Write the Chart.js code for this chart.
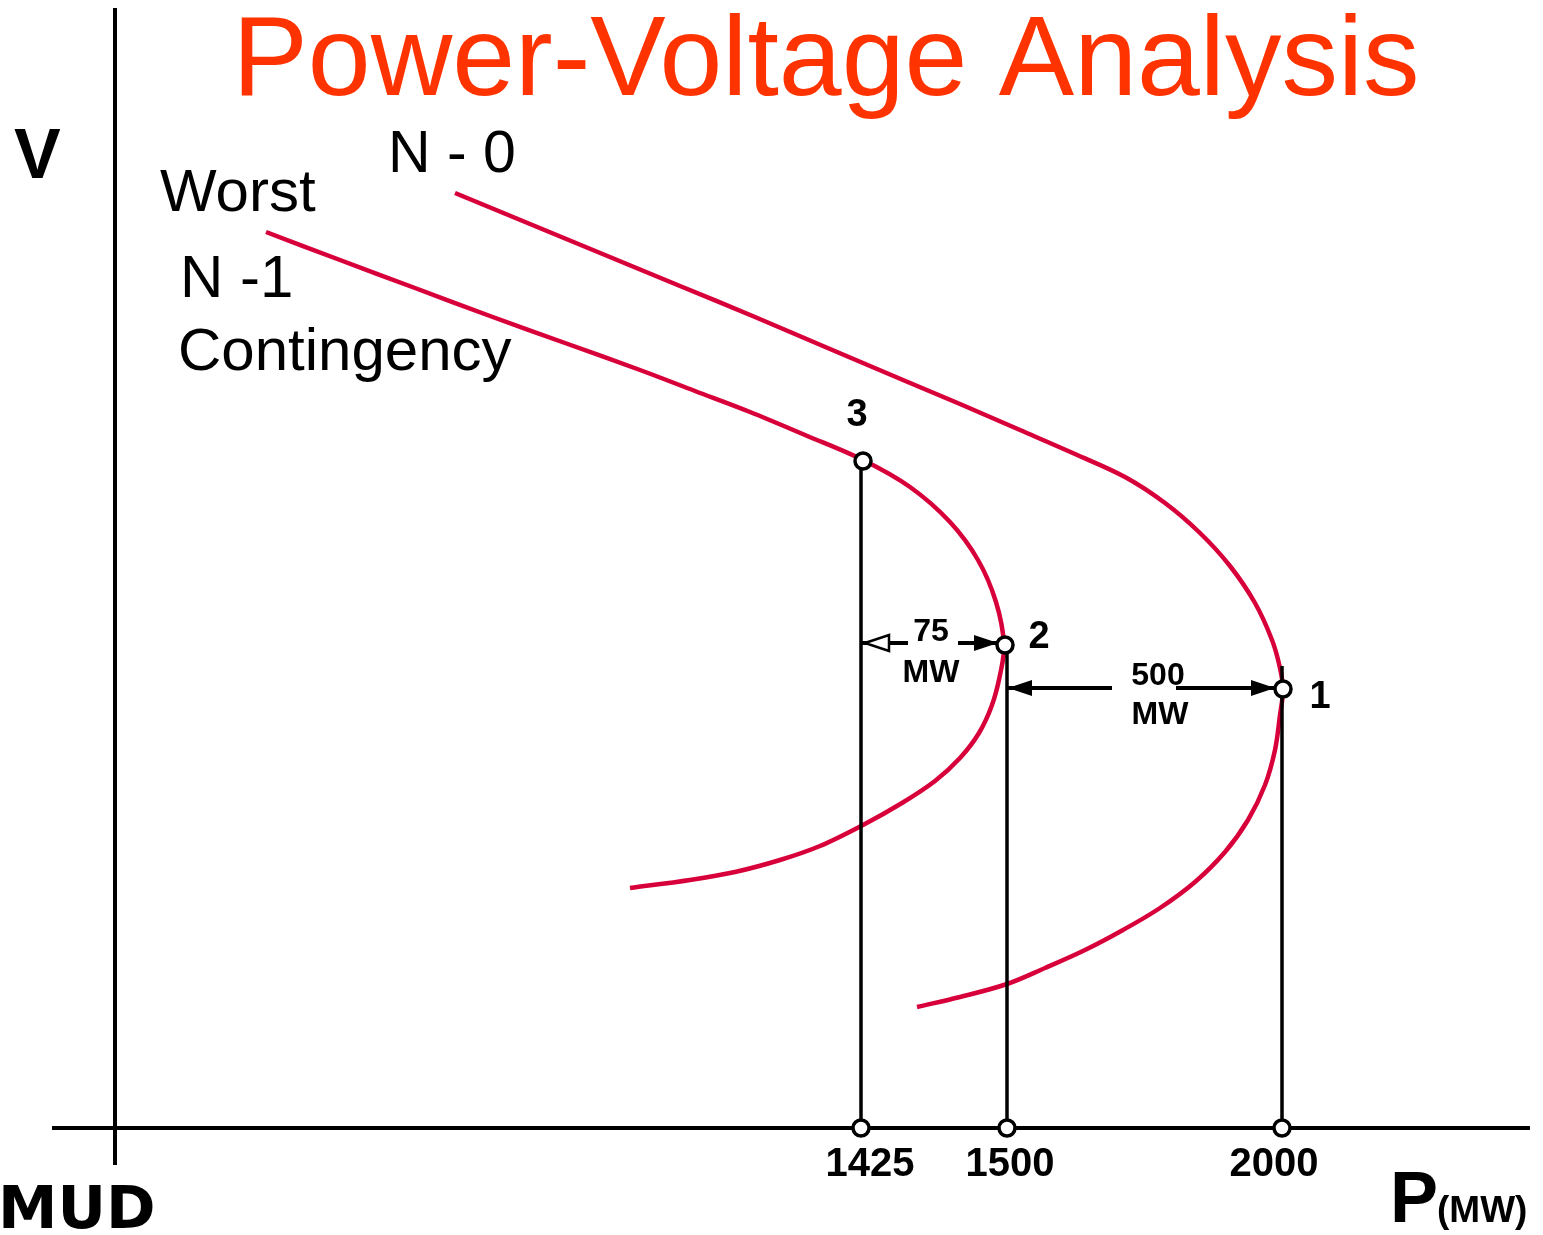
<!DOCTYPE html>
<html>
<head>
<meta charset="utf-8">
<title>Power-Voltage Analysis</title>
<script src="https://cdn.jsdelivr.net/npm/chart.js@4.4.1/dist/chart.umd.min.js"></script>
<style>
  html, body { margin: 0; padding: 0; background: #fff; overflow: hidden; }
  #wrap { width: 1543px; height: 1235px; }
</style>
</head>
<body>
<div id="wrap"><canvas id="pv"></canvas></div>
<script>
// diagram units (the sketch is not to scale, P ticks are labels only)
const n0P = [34.0, 41.5, 49.0, 56.5, 64.0, 71.5, 78.8, 84.5, 90.5, 96.0, 101.0, 105.0, 108.5, 111.5, 114.0, 115.7, 116.5, 116.8, 116.5, 116.0, 115.0, 113.3, 111.0, 108.0, 104.5, 100.8, 97.0, 93.0, 89.2, 84.5, 80.2];
const n0V = [93.5, 90.4, 87.3, 84.2, 81.1, 77.9, 74.8, 72.4, 69.8, 67.4, 65.1, 62.5, 59.5, 56.2, 52.5, 48.8, 46.0, 43.8, 41.3, 37.8, 34.3, 30.8, 27.6, 24.6, 22.0, 19.8, 17.8, 16.0, 14.4, 13.1, 12.1];

const n1P = [15.1, 22.5, 30.0, 37.5, 45.0, 52.5, 58.0, 63.5, 69.0, 74.8, 79.5, 83.5, 86.3, 88.1, 88.9, 88.5, 87.7, 86.4, 84.5, 82.0, 78.7, 74.8, 70.5, 66.5, 62.0, 57.5, 51.5];
const n1V = [89.6, 86.8, 84.0, 81.2, 78.5, 75.8, 73.7, 71.6, 69.3, 66.8, 64.1, 60.6, 56.8, 52.6, 48.3, 45.3, 42.3, 39.5, 37.0, 34.7, 32.5, 30.3, 28.2, 26.8, 25.6, 24.8, 24.0];

// operating points 1, 2, 3
const pointNames = ['1', '2', '3'];
const pointP = [116.8, 89.0, 74.8];
const pointV = [43.9, 48.3, 66.7];

// P axis ticks and the drop lines above them
const tickLabels = ['2000', '1500', '1425'];
const tickP = [116.7, 89.2, 74.6];
const dropTop = [46.2, 48.3, 66.7];

// margins between points
const gapLabels = ['75', '500'];
const gapFrom = [74.6, 89.2];
const gapTo = [88.3, 116.0];
const gapV = [48.5, 44.0];

const axisP = [-6.3, 141.5];
const axisV = [-3.7, 112.0];

const RED = '#d8003a';
const INK = '#000';

function xy(ps, vs) {
    return ps.map((p, i) => ({ x: p, y: vs[i] }));
}

let datasets = [];

datasets.push({
    label: 'P axis',
    data: [{ x: axisP[0], y: 0 }, { x: axisP[1], y: 0 }],
    borderColor: INK, borderWidth: 4, pointRadius: 0, showLine: true, order: 4
});
datasets.push({
    label: 'V axis',
    data: [{ x: 0, y: axisV[0] }, { x: 0, y: axisV[1] }],
    borderColor: INK, borderWidth: 4, pointRadius: 0, showLine: true, order: 4
});
datasets.push({
    label: 'N - 0',
    data: xy(n0P, n0V),
    borderColor: RED, borderWidth: 4.5, pointRadius: 0, showLine: true, tension: 0.35, order: 3
});
datasets.push({
    label: 'Worst N -1 Contingency',
    data: xy(n1P, n1V),
    borderColor: RED, borderWidth: 4.5, pointRadius: 0, showLine: true, tension: 0.35, order: 3
});
tickP.forEach((p, i) => {
    datasets.push({
        label: 'drop ' + tickLabels[i],
        data: [{ x: p, y: dropTop[i] }, { x: p, y: 0 }],
        borderColor: INK, borderWidth: 3.5, pointRadius: 0, showLine: true, order: 2
    });
});
datasets.push({
    label: 'markers',
    data: xy(pointP, pointV).concat(tickP.map(p => ({ x: p, y: 0 }))),
    showLine: false,
    pointRadius: 8, pointBorderWidth: 3.5,
    pointBackgroundColor: '#fff', pointBorderColor: INK, order: 1
});

// text + arrows, placed through the scales
const labelsPlugin = {
    id: 'pvLabels',
    afterDatasetsDraw(chart) {
        const ctx = chart.ctx;
        const xs = chart.scales.x, ys = chart.scales.y;
        const px = v => xs.getPixelForValue(v);
        const py = v => ys.getPixelForValue(v);

        function text(str, x, y, font, align, color) {
            ctx.save();
            ctx.font = font;
            ctx.textAlign = align || 'left';
            ctx.textBaseline = 'alphabetic';
            ctx.fillStyle = color || INK;
            ctx.fillText(str, px(x), py(y));
            ctx.restore();
        }

        function head(tipX, y, dir, filled) {
            const tx = px(tipX), ty = py(y);
            const len = 24, hw = 8;
            ctx.beginPath();
            ctx.moveTo(tx, ty);
            ctx.lineTo(tx - dir * len, ty - hw);
            ctx.lineTo(tx - dir * len, ty + hw);
            ctx.closePath();
            if (filled) {
                ctx.fillStyle = INK;
                ctx.fill();
            } else {
                ctx.fillStyle = '#fff';
                ctx.fill();
                ctx.lineWidth = 2.5;
                ctx.strokeStyle = INK;
                ctx.stroke();
            }
        }

        function seg(x1, x2, y) {
            ctx.beginPath();
            ctx.moveTo(px(x1), py(y));
            ctx.lineTo(px(x2), py(y));
            ctx.lineWidth = 4;
            ctx.strokeStyle = INK;
            ctx.stroke();
        }

        ctx.save();
        // 75 MW
        seg(gapFrom[0], 79.3, gapV[0]);
        seg(84.3, gapTo[0], gapV[0]);
        head(gapFrom[0] + 0.4, gapV[0], -1, false);
        head(gapTo[0], gapV[0], 1, true);
        // 500 MW
        seg(gapFrom[1], 99.7, gapV[1]);
        seg(106.1, gapTo[1], gapV[1]);
        head(gapFrom[1] + 0.1, gapV[1], -1, true);
        head(gapTo[1], gapV[1], 1, true);
        ctx.restore();

        text('Power-Voltage Analysis', 71.1, 103.3, '113px "Liberation Sans", Arial, sans-serif', 'center', '#ff3300');
        text('V', -10.1, 95.0, 'bold 70px "Liberation Sans", Arial, sans-serif');
        text('N - 0', 27.3, 95.6, '59px "Liberation Sans", Arial, sans-serif');
        text('Worst', 4.5, 91.7, '60px "Liberation Sans", Arial, sans-serif');
        text('N -1', 6.5, 83.1, '60px "Liberation Sans", Arial, sans-serif');
        text('Contingency', 6.3, 75.8, '60px "Liberation Sans", Arial, sans-serif');

        const nameOffset = [[3.7, -1.9], [3.4, -0.3], [-0.6, 3.5]];
        pointNames.forEach((n, i) => {
            text(n, pointP[i] + nameOffset[i][0], pointV[i] + nameOffset[i][1],
                'bold 38px "Liberation Sans", Arial, sans-serif', 'center');
        });

        text(gapLabels[0], 81.6, 48.7, 'bold 32px "Liberation Sans", Arial, sans-serif', 'center');
        text('MW', 81.6, 44.6, 'bold 32px "Liberation Sans", Arial, sans-serif', 'center');
        text(gapLabels[1], 104.3, 44.3, 'bold 32px "Liberation Sans", Arial, sans-serif', 'center');
        text('MW', 104.5, 40.4, 'bold 32px "Liberation Sans", Arial, sans-serif', 'center');

        const tickShift = [-0.8, 0.3, 0.9];
        tickLabels.forEach((t, i) => {
            text(t, tickP[i] + tickShift[i], -4.8, 'bold 40px "Liberation Sans", Arial, sans-serif', 'center');
        });

        text('P', 127.5, -9.4, 'bold 72px "Liberation Sans", Arial, sans-serif');
        text('(MW)', 132.2, -9.4, 'bold 37px "Liberation Sans", Arial, sans-serif');

        // logo
        ctx.save();
        ctx.font = 'bold 58px "DejaVu Sans", sans-serif';
        ctx.fillStyle = INK;
        ctx.translate(px(-11.7), py(-10.0));
        ctx.scale(1.03, 1);
        ctx.fillText('MUD', 0, 0);
        ctx.restore();
    }
};

new Chart(document.getElementById('pv'), {
    type: 'scatter',
    data: { datasets: datasets },
    options: {
        responsive: true,
        maintainAspectRatio: false,
        animation: false,
        layout: { padding: 0, autoPadding: false },
        plugins: {
            legend: { display: false },
            title: { display: false },
            tooltip: { enabled: false }
        },
        scales: {
            x: { type: 'linear', min: -11.5, max: 142.8, display: false },
            y: { type: 'linear', min: -10.7, max: 112.8, display: false }
        }
    },
    plugins: [labelsPlugin]
});
</script>
</body>
</html>
